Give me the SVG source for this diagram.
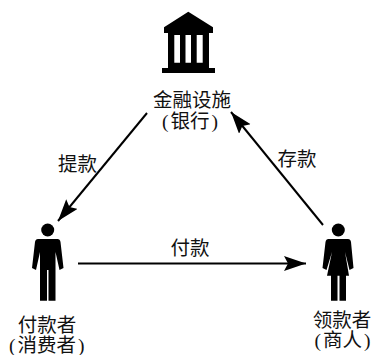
<svg xmlns="http://www.w3.org/2000/svg" width="372" height="355" viewBox="0 0 372 355">
<style>
text{font-family:"Liberation Serif","Noto Sans CJK SC",serif;font-size:19.5px;fill:#111;text-anchor:middle}
.c{stroke:#000;stroke-width:2;fill:none;marker-end:url(#a)}
</style>
<defs>
<marker id="a" markerUnits="userSpaceOnUse" markerWidth="24" markerHeight="16" refX="22" refY="7.500" orient="auto"><path d="M0 0L22 7.500L0 15L4 7.500Z" fill="#000"/></marker>
</defs>
<rect width="372" height="355" fill="#fff"/>
<g id="connectors">
<path class="c" d="M147 113L58 221"/>
<path class="c" d="M323 225L231 112"/>
<path class="c" d="M78 263.500H306"/>
</g>
<g id="bank">
<path d="M188.300 11.700L164 27.300V33H168V68H162V73H215V68H209V33H213V27.300Z" fill="#000"/>
<path d="M174.300 35H180V62.700H174.300ZM185.500 35H191V62.700H185.500ZM196.700 35H202.700V62.700H196.700Z" fill="#fff"/>
<text x="192" y="107">金融设施</text>
<text x="190" y="128">(<tspan dx="2">银行</tspan><tspan dx="2">)</tspan></text>
</g>
<g id="payer">
<circle cx="47.700" cy="230" r="6.500"/>
<path d="M38 239H57.500Q60 239 60.500 242L63.500 268L59.500 270L55.500 252V300.700H48.500V270H47V300.700H40V252L36 270L32 268L35 242Q35.500 239 38 239Z" fill="#000"/>
<text x="47" y="332">付款者</text>
<text x="46.700" y="352">(<tspan dx="2">消费者</tspan><tspan dx="2">)</tspan></text>
</g>
<g id="merchant">
<circle cx="338.300" cy="230" r="6.500"/>
<path d="M328.500 239H348Q350.500 239 351 242L353.500 268L349.500 270L345 252L349 275.700H346V300.700H339.500V275.700H337.500V300.700H331V275.700H327L332 252L326.500 270L322.500 268L325.500 242Q326 239 328.500 239Z" fill="#000"/>
<text x="342" y="327">领款者</text>
<text x="342.500" y="347">(<tspan dx="2">商人</tspan><tspan dx="2">)</tspan></text>
</g>
<g id="labels">
<text x="77.500" y="171">提款</text>
<text x="297" y="166">存款</text>
<text x="190" y="255">付款</text>
</g>
</svg>
